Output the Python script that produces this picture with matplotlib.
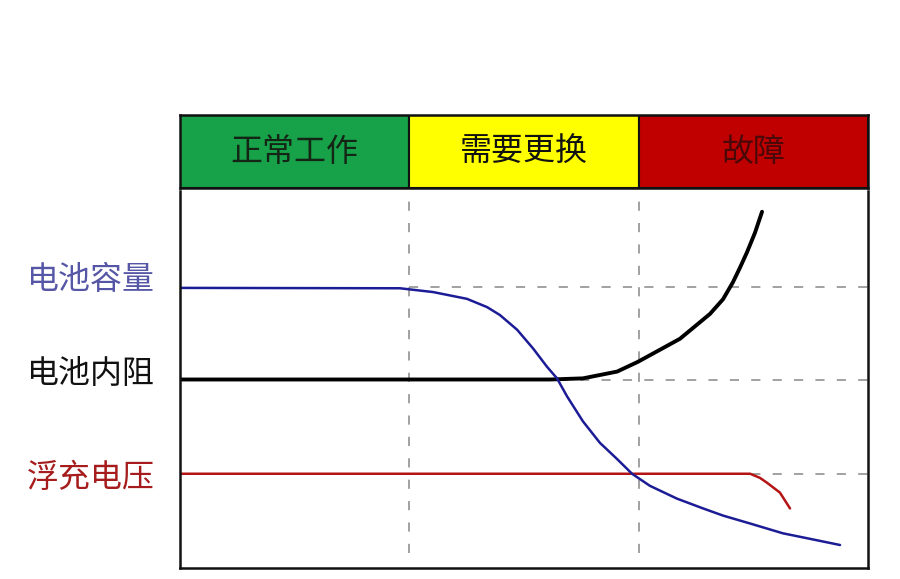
import matplotlib
matplotlib.use('Agg')
import matplotlib.pyplot as plt

plt.rcParams['font.family'] = ['Noto Sans CJK SC', 'DejaVu Sans']

# stages across the top
stages = ['正常工作', '需要更换', '故障']
stage_colors = ['#17a24a', '#ffff00', '#c00000']
stage_text_colors = ['#152515', '#111111', '#4a0808']

# curve labels on the left
labels = ['电池容量', '电池内阻', '浮充电压']
label_colors = ['#5656a6', '#111111', '#a61c1c']
label_levels = [0.765, 0.515, 0.24]

# capacity (blue)
cap_x = [0, 0.959, 1.103, 1.251, 1.339, 1.395, 1.470, 1.540, 1.600, 1.644,
         1.688, 1.757, 1.831, 1.906, 1.971, 2.049, 2.167, 2.281, 2.368,
         2.486, 2.629, 2.734, 2.878]
cap_y = [0.743, 0.742, 0.732, 0.714, 0.692, 0.671, 0.632, 0.582, 0.534, 0.503,
         0.455, 0.389, 0.332, 0.289, 0.250, 0.218, 0.184, 0.158, 0.139,
         0.118, 0.092, 0.079, 0.061]

# internal resistance (black)
res_x = [0, 1.613, 1.757, 1.906, 1.997, 2.180, 2.311, 2.368, 2.411, 2.442,
         2.472, 2.507, 2.538]
res_y = [0.5, 0.5, 0.503, 0.521, 0.547, 0.608, 0.674, 0.713, 0.758, 0.797,
         0.837, 0.889, 0.945]

# float voltage (red)
volt_x = [0, 2.486, 2.529, 2.560, 2.616, 2.660]
volt_y = [0.25, 0.25, 0.239, 0.226, 0.200, 0.158]

ref_levels = [0.745, 0.5, 0.25]

W, H = 900, 579
fig = plt.figure(figsize=(9, 5.79), dpi=100)

# header band
hx = fig.add_axes([180 / W, (H - 188) / H, 688 / W, 73 / H])
hx.bar([0.5, 1.5, 2.5], [1, 1, 1], width=1, color=stage_colors,
       edgecolor='#111111', linewidth=1.5)
for i, s in enumerate(stages):
    hx.text(i + 0.5, 0.5, s, ha='center', va='center', fontsize=23,
            color=stage_text_colors[i])
hx.set_xlim(0, 3)
hx.set_ylim(0, 1)
hx.set_xticks([])
hx.set_yticks([])
for sp in hx.spines.values():
    sp.set_linewidth(1.8)
    sp.set_color('#111111')

# main plot area
ax = fig.add_axes([180 / W, 11 / H, 688 / W, 377 / H])
ax.set_xlim(0, 3)
ax.set_ylim(0, 1)
ax.set_xticks([])
ax.set_yticks([])
for sp in ax.spines.values():
    sp.set_linewidth(1.8)
    sp.set_color('#111111')
ax.spines['top'].set_visible(False)

for xv in [1, 2]:
    ax.plot([xv, xv], [0.04, 1], ls=(0, (6, 8)), color='#888888', lw=1.1)
for yv in ref_levels:
    ax.plot([1, 3], [yv, yv], ls=(0, (6, 8)), color='#888888', lw=1.1)

ax.plot(volt_x, volt_y, color='#b51414', lw=1.8, solid_capstyle='round',
        solid_joinstyle='round')
ax.plot(res_x, res_y, color='#000000', lw=2.8, solid_capstyle='round',
        solid_joinstyle='round')
ax.plot(cap_x, cap_y, color='#1c1c96', lw=1.8, solid_capstyle='round',
        solid_joinstyle='round')

for lab, c, lv in zip(labels, label_colors, label_levels):
    ax.text(-0.11, lv, lab, ha='right', va='center', fontsize=23, color=c,
            transform=ax.transData, clip_on=False)

fig.savefig('out.png', dpi=100)
